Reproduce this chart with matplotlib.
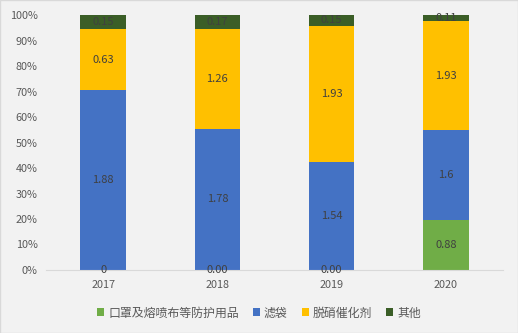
import numpy as np
import matplotlib.pyplot as plt
from matplotlib.ticker import PercentFormatter

plt.rcParams['font.family'] = ['Noto Sans CJK SC', 'DejaVu Sans']

years = ['2017', '2018', '2019', '2020']
series_names = ['口罩及熔喷布等防护用品', '滤袋', '脱硝催化剂', '其他']
mask = [0, 0.00, 0.00, 0.88]
filter_bag = [1.88, 1.78, 1.54, 1.6]
denitration = [0.63, 1.26, 1.93, 1.93]
other = [0.15, 0.17, 0.15, 0.11]
label_text = [
    ['0', '0.00', '0.00', '0.88'],
    ['1.88', '1.78', '1.54', '1.6'],
    ['0.63', '1.26', '1.93', '1.93'],
    ['0.15', '0.17', '0.15', '0.11'],
]
colors = ['#70AD47', '#4472C4', '#FFC000', '#3B5E27']

values = np.array([mask, filter_bag, denitration, other], dtype=float)
shares = values / values.sum(axis=0)

fig = plt.figure(figsize=(5.18, 3.33), dpi=100, facecolor='#F2F2F2')
ax = fig.add_axes([46 / 518, 1 - 270 / 333, 457 / 518, 255 / 333])
ax.set_facecolor('#F2F2F2')

x = np.arange(len(years))
bottom = np.zeros(len(years))
for i, name in enumerate(series_names):
    ax.bar(x, shares[i], 0.4, bottom=bottom, color=colors[i], label=name, zorder=2)
    for j in range(len(years)):
        yc = bottom[j] + shares[i][j] / 2
        ax.text(x[j], yc, label_text[i][j], ha='center', va='center',
                fontsize=8, color='#404040', zorder=3)
    bottom += shares[i]

ax.set_xlim(-0.5, len(years) - 0.5)
ax.set_ylim(0, 1)
ax.set_yticks(np.arange(0, 1.01, 0.1))
ax.yaxis.set_major_formatter(PercentFormatter(1.0, decimals=0))
ax.set_xticks(x)
ax.set_xticklabels(years)
ax.tick_params(length=0, labelsize=7.8, labelcolor='#595959')
ax.tick_params(axis='x', pad=7)
ax.tick_params(axis='y', pad=6)

for side in ['top', 'right', 'left']:
    ax.spines[side].set_visible(False)
ax.spines['bottom'].set_color('#D9D9D9')

fig.legend(loc='center', bbox_to_anchor=(0.5, 1 - 313 / 333), ncol=4, frameon=False,
           fontsize=8.6, labelcolor='#595959', handlelength=0.6, handleheight=0.6,
           handletextpad=0.3, columnspacing=1.2)

# outer chart border
fig.patches.append(plt.Rectangle((0, 0), 1, 1, transform=fig.transFigure,
                                 fill=False, edgecolor='#D9D9D9', lw=1))

fig.savefig('out.png', dpi=100, facecolor=fig.get_facecolor())
